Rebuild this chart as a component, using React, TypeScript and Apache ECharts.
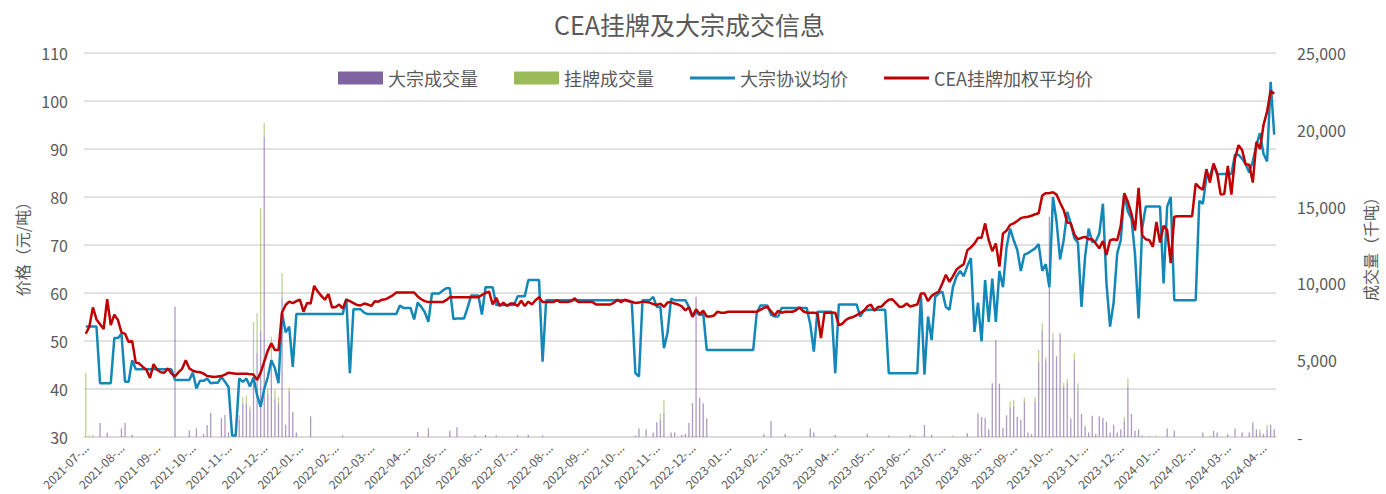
import React, { useEffect, useRef } from "react";
import * as echarts from "echarts";

const monthLabels = [
  "2021-07-...", "2021-08-...", "2021-09-...", "2021-10-...", "2021-11-...", "2021-12-...",
  "2022-01-...", "2022-02-...", "2022-03-...", "2022-04-...", "2022-05-...", "2022-06-...",
  "2022-07-...", "2022-08-...", "2022-09-...", "2022-10-...", "2022-11-...", "2022-12-...",
  "2023-01-...", "2023-02-...", "2023-03-...", "2023-04-...", "2023-05-...", "2023-06-...",
  "2023-07-...", "2023-08-...", "2023-09-...", "2023-10-...", "2023-11-...", "2023-12-...",
  "2024-01-...", "2024-02-...", "2024-03-...", "2024-04-...",
];

// CEA挂牌加权平均价 (元/吨)
const ceaPrice = [
  51.5, 53, 57, 54.5, 53.5, 52.5, 58.7, 53.3, 55.5, 54.4,
  51.8, 51.5, 49.8, 50, 45.5, 45.3, 44.6, 44, 42.3, 45.2,
  44, 43.5, 43.4, 44.3, 43.2, 42.6, 43.5, 44.2, 46, 44.3,
  43.8, 43.6, 43.5, 43.2, 42.7, 42.6, 42.5, 42.6, 42.7, 43,
  43.4, 43.3, 43.2, 43.2, 43.2, 43.2, 43.1, 43, 41.9, 43.4,
  45.7, 48, 49.5, 48.1, 48.1, 56, 57.5, 58.2, 57.9, 58.3,
  58.6, 56.1, 57.9, 57.8, 61.5, 60.3, 59.4, 58.6, 59.8, 57,
  57.1, 57.6, 56.8, 58.6, 58.3, 57.9, 57.5, 57.4, 57.8, 57.6,
  57.3, 58.3, 58.2, 58.6, 58.7, 59.1, 59.5, 60.1, 60.1, 60.1,
  60.1, 60.1, 60.1, 59.3, 58.7, 58.3, 58.1, 58.1, 58.1, 58.1,
  58.1, 58.5, 59.1, 59.1, 59.1, 59.1, 59.1, 59.1, 59.1, 59.1,
  59.1, 59.6, 60, 60.3, 57.6, 59, 57.3, 58, 57.3, 57.8,
  57.8, 57.3, 58.4, 57.3, 58.2, 57.6, 58.5, 59.1, 58.1, 58.1,
  58.1, 58.1, 58.5, 58.1, 58.1, 58.1, 58.3, 58.9, 58.1, 58.1,
  58.1, 58.1, 58.1, 57.6, 57.6, 57.6, 57.6, 57.6, 58, 58.6,
  58.1, 58.6, 58.3, 58.2, 57.9, 58, 58.2, 58.1, 58, 57.7,
  57.5, 57.8, 57.1, 58, 58.1, 57.8, 57.6, 57.2, 56.4, 57,
  55.1, 56.6, 55.6, 56.3, 55.1, 55.1, 55.3, 56.1, 55.9, 55.9,
  56.1, 56.1, 56.1, 56.1, 56.1, 56.1, 56.1, 56.1, 56.1, 56.5,
  56.9, 57.1, 56.2, 55.3, 56.3, 55.9, 56.1, 56.1, 56.1, 56.4,
  57, 56.2, 55.9, 55.9, 55.9, 55.8, 50.6, 55.9, 55.9, 55.9,
  55.9, 53.3, 53.6, 54.4, 54.8, 55, 55.4, 55.8, 56.3, 57.2,
  57.6, 56.3, 57.1, 57.2, 58, 58.6, 58.7, 57.9, 57.1, 57.2,
  57.8, 57.2, 57.4, 57.6, 59.9, 59.9, 58.3, 59.4, 59.9, 60.3,
  62, 63.8, 62.3, 63.5, 64.9, 65.5, 66, 68.9, 69.5, 70.3,
  71.5, 71.5, 74.5, 71, 68.7, 70.3, 65.5, 72.4, 73, 74.2,
  74.5, 75, 75.6, 75.8, 75.9, 76.1, 76.4, 76.6, 80.3, 80.8,
  80.8, 81, 80.5, 78.8, 77.3, 74.7, 74.5, 72.2, 71.2, 71.5,
  71.7, 71.2, 71.2, 70.3, 69.3, 70.8, 67.9, 71, 71.2, 71,
  74, 80.8, 79, 76.5, 73, 81.9, 72, 71.2, 71, 69.6,
  74.8, 70.5, 74, 73.1, 66.2, 75.9, 76, 76, 76, 76,
  76, 82.8, 82, 81.5, 85.8, 83, 87, 85, 80.5, 80.6,
  86.5, 80.5, 88, 90.8, 89.8, 86.8, 86.7, 83, 91.5, 90,
  95, 97.8, 102.1, 101.5,
];

// 大宗协议均价 (元/吨)
const bulkPrice = [
  53, 53, 53, 53, 41.2, 41.2, 41.2, 41.2, 50.6, 50.6,
  51.5, 41.5, 41.5, 46, 44.1, 44.1, 44.1, 44.1, 44.1, 44.1,
  44.1, 44.1, 44.1, 44.1, 44.1, 41.9, 41.9, 41.9, 41.9, 41.9,
  43.4, 40.1, 41.7, 41.7, 42.2, 41.2, 41.3, 41.3, 42.5, 41.5,
  40.4, 30.3, 30.3, 42.2, 41.5, 42.2, 40.5, 42.4, 38.7, 36.3,
  40, 42.5, 46, 44.3, 41.2, 55.8, 51.8, 53, 44.6, 55.6,
  55.6, 55.6, 55.6, 55.6, 55.6, 55.6, 55.6, 55.6, 55.6, 55.6,
  55.6, 55.6, 55.6, 58.8, 43.3, 56.6, 56.6, 56.6, 55.9, 55.6,
  55.6, 55.6, 55.6, 55.6, 55.6, 55.6, 55.6, 55.6, 57.4, 56.9,
  56.9, 56.9, 54.5, 58, 57.1, 56, 54, 59.9, 59.9, 59.9,
  60.5, 61, 61, 54.6, 54.7, 54.7, 54.7, 57, 59.5, 59.5,
  59.5, 55.5, 61.2, 61.2, 61.2, 57.5, 57.5, 57.5, 57.5, 57.5,
  57.5, 59.3, 59.3, 59.3, 62.7, 62.7, 62.7, 62.7, 45.7, 58.5,
  58.5, 58.5, 58.5, 58.5, 58.5, 58.5, 58.5, 58.5, 58.5, 58.5,
  58.5, 58.5, 58.5, 58.5, 58.5, 58.5, 58.5, 58.5, 58.5, 58.5,
  58.5, 58.5, 58.5, 58, 43.3, 42.6, 58.5, 58.5, 58.5, 59.2,
  57.1, 57.1, 48.5, 51.7, 58.8, 58.5, 58.5, 58.5, 58.5, 57.1,
  55, 56.1, 55.4, 55.8, 48.1, 48.1, 48.1, 48.1, 48.1, 48.1,
  48.1, 48.1, 48.1, 48.1, 48.1, 48.1, 48.1, 48.1, 55.8, 57.4,
  57.4, 57.4, 55.5, 55.1, 55.1, 56.9, 56.9, 56.9, 56.9, 56.9,
  56.9, 56.9, 56.9, 53.5, 47.8, 56.1, 56.1, 56.1, 56.1, 56.1,
  43.3, 57.6, 57.6, 57.6, 57.6, 57.6, 57.6, 55.1, 56.3, 56.5,
  56.5, 56.5, 56.5, 56.5, 56.5, 43.3, 43.3, 43.3, 43.3, 43.3,
  43.3, 43.3, 43.3, 43.3, 59.5, 43, 55.1, 50.2, 59.2, 59.9,
  60.3, 57.1, 56.5, 61.3, 63.5, 64.6, 63.5, 65.6, 67.3, 51.9,
  58, 49.9, 62.7, 54, 63, 54, 64.6, 61.2, 69.5, 73.4,
  71, 69, 64.6, 68, 68.3, 68.8, 69.3, 70.2, 64.6, 66,
  61.2, 80, 75, 67, 71, 76.9, 74.5, 71.4, 70.5, 57.1,
  67.5, 73.4, 70.6, 70.8, 72.4, 78.6, 62, 53, 58, 68.2,
  71, 80.7, 77, 75.5, 68, 54.7, 73.5, 78, 78, 78,
  78, 78, 62, 78, 80, 58.5, 58.5, 58.5, 58.5, 58.5,
  58.5, 58.5, 79.2, 78.6, 84.1, 84.4, 86.8, 84.7, 84.8, 84.8,
  84.8, 84.8, 88.8, 88.8, 88, 86.8, 85.1, 87.5, 90.8, 93.3,
  89, 87.4, 104, 93,
];

// 大宗成交量 (千吨)
const bulkVolume = [
  0, 0, 0, 0, 910, 0, 300, 0, 0, 0,
  560, 910, 0, 150, 0, 0, 0, 0, 0, 0,
  0, 0, 0, 0, 0, 8480, 0, 0, 0, 430,
  0, 560, 0, 200, 780, 1560, 0, 0, 1220, 1430,
  300, 0, 600, 1100, 2200, 2200, 1800, 3500, 5500, 6900,
  19530, 2800, 5000, 2500, 2200, 9130, 800, 3000, 1630, 300,
  0, 0, 0, 1340, 0, 0, 0, 0, 0, 0,
  0, 0, 100, 0, 0, 0, 0, 0, 0, 0,
  0, 0, 0, 0, 0, 0, 0, 0, 0, 0,
  0, 0, 0, 320, 0, 0, 560, 0, 0, 0,
  0, 0, 400, 0, 630, 0, 0, 0, 0, 100,
  0, 0, 150, 0, 0, 100, 0, 0, 0, 0,
  0, 100, 0, 0, 150, 0, 0, 0, 100, 0,
  0, 0, 0, 0, 0, 0, 0, 0, 0, 0,
  0, 0, 0, 0, 0, 0, 0, 0, 0, 0,
  0, 0, 0, 0, 100, 560, 0, 500, 0, 300,
  960, 1130, 1560, 0, 300, 300, 0, 150, 200, 910,
  2200, 9130, 2560, 2200, 1200, 0, 0, 0, 0, 0,
  0, 0, 0, 0, 0, 0, 0, 0, 0, 0,
  200, 0, 1040, 0, 0, 0, 200, 0, 0, 0,
  0, 0, 0, 560, 300, 0, 0, 0, 0, 0,
  150, 0, 0, 0, 0, 0, 0, 0, 0, 200,
  0, 0, 0, 0, 0, 100, 0, 0, 0, 0,
  0, 150, 0, 0, 0, 780, 0, 150, 0, 0,
  0, 0, 0, 0, 0, 0, 0, 250, 0, 0,
  1500, 1300, 1190, 500, 3500, 6300, 3470, 600, 1410, 1900,
  2000, 1300, 1100, 2300, 300, 200, 2300, 4900, 6900, 4980,
  14340, 6300, 5200, 6750, 3270, 3500, 1200, 5000, 3000, 1500,
  700, 300, 1390, 200, 1350, 1240, 1000, 300, 800, 300,
  500, 1020, 3300, 1500, 400, 500, 100, 0, 50, 0,
  0, 0, 0, 560, 0, 400, 0, 0, 0, 0,
  0, 0, 0, 300, 0, 0, 400, 300, 0, 0,
  200, 0, 560, 0, 300, 0, 300, 960, 500, 300,
  200, 500, 800, 500,
];

// 挂牌成交量 (千吨)
const listedVolume = [
  4170, 100, 150, 0, 0, 0, 0, 0, 0, 0,
  0, 0, 0, 0, 0, 0, 0, 0, 0, 0,
  0, 0, 0, 0, 0, 0, 0, 0, 0, 0,
  0, 0, 0, 0, 0, 0, 0, 0, 0, 0,
  0, 0, 0, 300, 400, 500, 200, 4000, 2550, 8000,
  910, 370, 1530, 600, 400, 1550, 0, 200, 0, 0,
  0, 0, 0, 0, 0, 0, 0, 0, 0, 0,
  0, 0, 0, 0, 0, 0, 0, 0, 0, 0,
  0, 0, 0, 0, 0, 0, 0, 0, 0, 0,
  0, 0, 0, 0, 0, 0, 0, 0, 0, 0,
  0, 0, 0, 0, 0, 0, 0, 0, 0, 0,
  0, 0, 0, 0, 0, 0, 0, 0, 0, 0,
  0, 0, 0, 0, 0, 0, 0, 0, 0, 0,
  0, 0, 0, 0, 0, 0, 0, 0, 0, 0,
  0, 0, 0, 0, 0, 0, 0, 0, 0, 0,
  0, 0, 0, 0, 0, 0, 0, 0, 0, 0,
  0, 430, 850, 0, 0, 0, 0, 0, 0, 0,
  0, 0, 0, 0, 0, 0, 0, 0, 0, 0,
  0, 0, 0, 0, 0, 0, 0, 0, 0, 0,
  0, 0, 0, 0, 0, 0, 0, 0, 0, 0,
  0, 0, 0, 0, 0, 0, 0, 0, 0, 0,
  0, 0, 0, 0, 0, 0, 0, 0, 0, 0,
  0, 0, 0, 0, 0, 0, 0, 0, 0, 0,
  0, 0, 100, 0, 0, 0, 0, 0, 0, 0,
  0, 0, 0, 100, 0, 0, 0, 0, 0, 0,
  100, 0, 100, 0, 0, 0, 0, 0, 0, 410,
  430, 0, 0, 260, 0, 0, 300, 760, 500, 220,
  0, 450, 100, 0, 250, 300, 0, 450, 500, 0,
  0, 0, 0, 0, 0, 0, 0, 0, 0, 0,
  0, 300, 520, 0, 0, 0, 0, 0, 0, 0,
  100, 0, 0, 0, 0, 0, 0, 0, 0, 0,
  0, 0, 0, 0, 0, 100, 0, 0, 0, 0,
  0, 0, 0, 0, 0, 0, 0, 0, 0, 200,
  0, 300, 0, 0,
];

const categories = ceaPrice.map((_, i) => String(i));

const TEXT = "#595959";
const FONT = "'Noto Sans CJK SC', 'Noto Sans', sans-serif";
// thin horizontal bar centred in a 45x13 box, used as the legend icon of the lines
const LINE_ICON = "path://M0 0L0.01 0M0 5L45 5L45 8L0 8ZM45 13L45.01 13";

export default function App() {
  const ref = useRef<HTMLDivElement>(null);
  useEffect(() => {
    const chart = echarts.init(ref.current!, null, { renderer: "svg" });
    chart.setOption({
      animation: false,
      backgroundColor: "#ffffff",
      textStyle: { fontFamily: FONT, color: TEXT },
      title: {
        text: "CEA挂牌及大宗成交信息",
        left: 549,
        top: 6,
        textStyle: { fontFamily: FONT, fontSize: 25, fontWeight: "normal", color: TEXT },
      },
      legend: {
        left: 333,
        top: 64,
        itemWidth: 45,
        itemHeight: 13,
        itemGap: 36,
        textStyle: { fontFamily: FONT, fontSize: 18, color: TEXT },
        data: [
          { name: "大宗成交量", icon: "rect", itemStyle: { opacity: 1 } },
          { name: "挂牌成交量", icon: "rect", itemStyle: { opacity: 1 } },
          { name: "大宗协议均价", icon: LINE_ICON },
          { name: "CEA挂牌加权平均价", icon: LINE_ICON },
        ],
      },
      grid: { left: 84, right: 106, top: 53, bottom: 57 },
      xAxis: {
        type: "category",
        data: categories,
        boundaryGap: true,
        axisLine: { show: true, lineStyle: { color: "#D9D9D9", width: 1.5 } },
        axisTick: { show: false },
        axisLabel: {
          interval: 9,
          rotate: 45,
          fontSize: 12,
          color: TEXT,
          margin: 8,
          formatter: (_v: string, idx: number) => monthLabels[Math.round(idx / 10)] ?? "",
        },
      },
      yAxis: [
        {
          type: "value",
          min: 30,
          max: 110,
          interval: 10,
          name: "价格（元/吨）",
          nameLocation: "middle",
          nameRotate: 90,
          nameGap: 52,
          nameTextStyle: { fontSize: 16, color: TEXT, fontFamily: FONT },
          axisLine: { show: false },
          axisTick: { show: false },
          axisLabel: { fontSize: 16, color: TEXT, margin: 16 },
          splitLine: { show: true, lineStyle: { color: "#D9D9D9", width: 1.5 } },
        },
        {
          type: "value",
          min: 0,
          max: 25000,
          interval: 5000,
          position: "right",
          name: "成交量（千吨）",
          nameLocation: "middle",
          nameRotate: 90,
          nameGap: 86,
          nameTextStyle: { fontSize: 16, color: TEXT, fontFamily: FONT },
          axisLine: { show: false },
          axisTick: { show: false },
          axisLabel: {
            fontSize: 16,
            color: TEXT,
            margin: 21,
            formatter: (v: number) => (v === 0 ? "-" : v.toLocaleString("en-US")),
          },
          splitLine: { show: false },
        },
      ],
      series: [
        {
          name: "大宗成交量",
          type: "bar",
          yAxisIndex: 1,
          stack: "vol",
          barWidth: 1.3,
          data: bulkVolume,
          itemStyle: { color: "#8064A2", opacity: 0.65 },
        },
        {
          name: "挂牌成交量",
          type: "bar",
          yAxisIndex: 1,
          stack: "vol",
          barWidth: 1.3,
          data: listedVolume,
          itemStyle: { color: "#9BBB59", opacity: 0.65 },
        },
        {
          name: "大宗协议均价",
          type: "line",
          yAxisIndex: 0,
          data: bulkPrice,
          symbol: "none",
          color: "#1388B8",
          lineStyle: { color: "#1388B8", width: 2.5 },
        },
        {
          name: "CEA挂牌加权平均价",
          type: "line",
          yAxisIndex: 0,
          data: ceaPrice,
          symbol: "none",
          color: "#C00000",
          lineStyle: { color: "#C00000", width: 2.5 },
        },
      ],
    });
    return () => chart.dispose();
  }, []);
  return (
    <div
      ref={ref}
      style={{ position: "fixed", left: 0, top: 0, width: 1386, height: 494, background: "#fff" }}
    />
  );
}
